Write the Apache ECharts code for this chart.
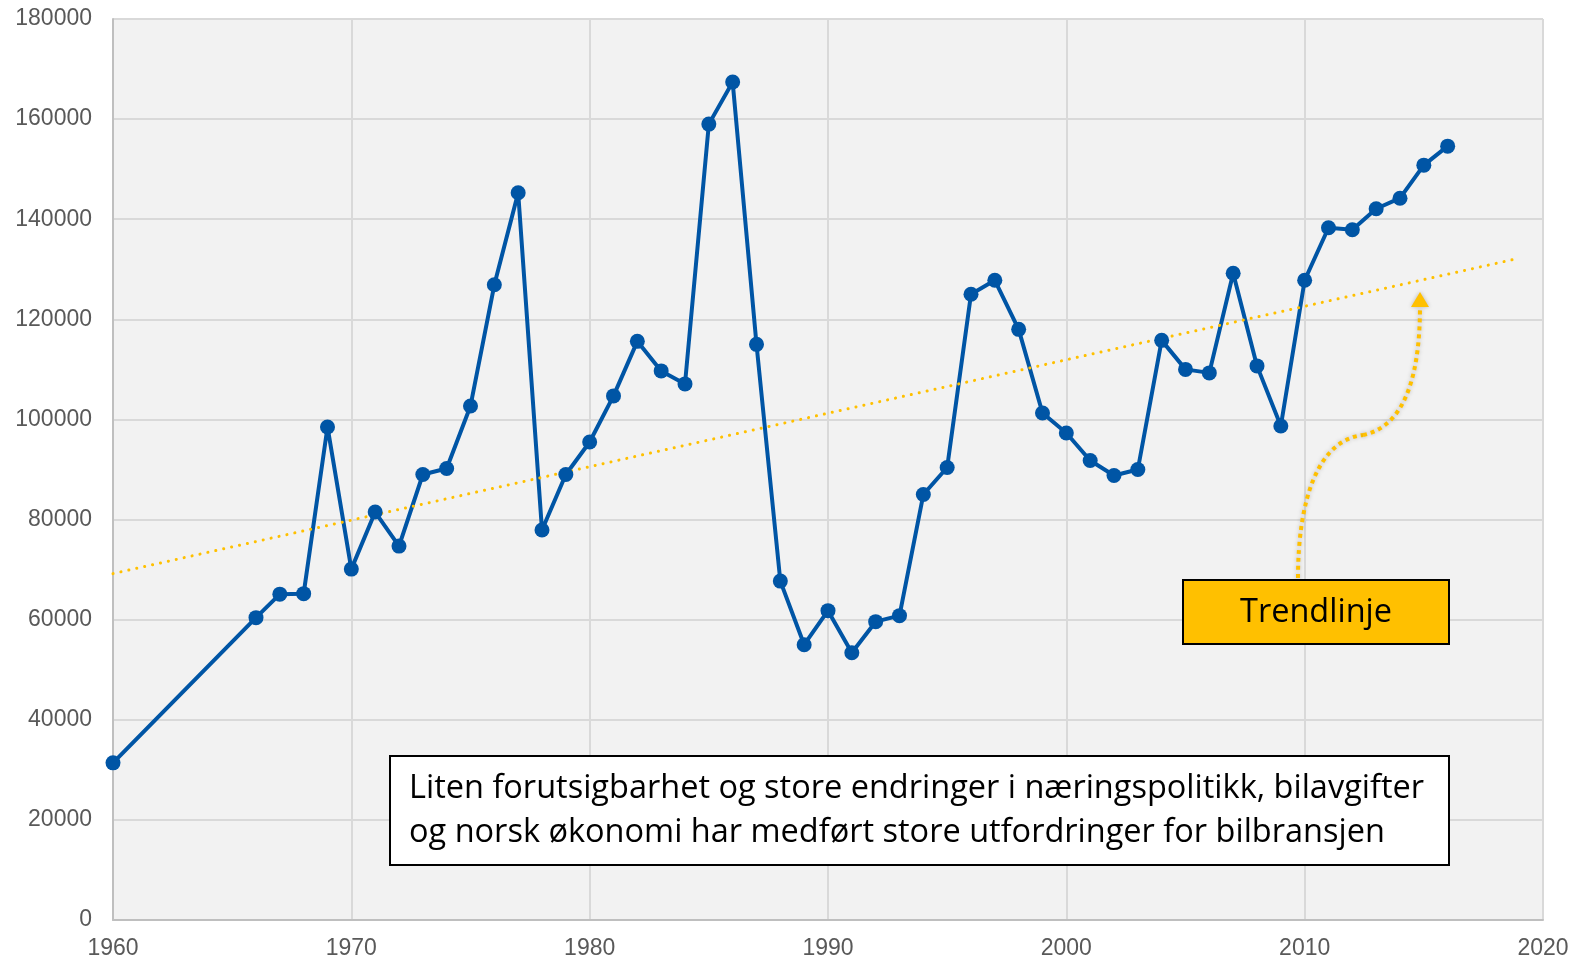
<!DOCTYPE html>
<html>
<head>
<meta charset="utf-8">
<script src="https://cdn.jsdelivr.net/npm/echarts@6/dist/echarts.min.js"></script>
<style>
  html, body { margin: 0; padding: 0; background: #fff; }
  #main { width: 1581px; height: 961px; }
</style>
</head>
<body>
<div id="main"></div>
<script>
  // årstall og antall
  var years = [1960, 1966, 1967, 1968, 1969, 1970, 1971, 1972, 1973, 1974, 1975, 1976, 1977, 1978, 1979,
    1980, 1981, 1982, 1983, 1984, 1985, 1986, 1987, 1988, 1989, 1990, 1991, 1992, 1993, 1994, 1995,
    1996, 1997, 1998, 1999, 2000, 2001, 2002, 2003, 2004, 2005, 2006, 2007, 2008, 2009, 2010, 2011,
    2012, 2013, 2014, 2015, 2016]
  var values = [31400, 60400, 65100, 65200, 98500, 70100, 81500, 74700, 89000, 90200, 102700, 126900, 145300, 77900, 89000,
    95500, 104700, 115600, 109700, 107100, 159000, 167400, 115000, 67700, 55000, 61800, 53400, 59600, 60800, 85000, 90400,
    125000, 127800, 118000, 101300, 97300, 91800, 88800, 90000, 115800, 110000, 109300, 129200, 110700, 98700, 127800, 138300,
    137900, 142100, 144200, 150800, 154600]
  // trendlinje endepunkter
  var trendYears = [1960, 2018.8]
  var trendValues = [69200, 132000]

  var chart = echarts.init(document.getElementById('main'))

  var axisLabel = {
    color: '#595959', fontSize: 23, fontFamily: 'Liberation Sans',
    formatter: function (v) { return String(v) }
  }

  var option = {
    animation: false,
    grid: { left: 113, right: 38, top: 19, bottom: 41, show: true, backgroundColor: '#f2f2f2', borderWidth: 0 },
    xAxis: {
      type: 'value', min: 1960, max: 2020, interval: 10,
      axisLine: { show: true, onZero: false, lineStyle: { color: '#bfbfbf', width: 2 } },
      axisTick: { show: false },
      splitLine: { show: true, lineStyle: { color: '#d9d9d9', width: 2 } },
      axisLabel: Object.assign({ margin: 17 }, axisLabel)
    },
    yAxis: {
      type: 'value', min: 0, max: 180000, interval: 20000,
      axisLine: { show: true, lineStyle: { color: '#bfbfbf', width: 2 } },
      axisTick: { show: false },
      splitLine: { show: true, lineStyle: { color: '#d9d9d9', width: 2 } },
      axisLabel: Object.assign({ margin: 21 }, axisLabel)
    },
    series: [
      {
        type: 'line',
        data: years.map(function (y, i) { return [y, values[i]] }),
        symbol: 'circle',
        symbolSize: 15,
        itemStyle: { color: '#0055a5' },
        lineStyle: { color: '#0055a5', width: 4 }
      },
      {
        type: 'line',
        data: trendYears.map(function (y, i) { return [y, trendValues[i]] }),
        showSymbol: false,
        symbol: 'none',
        lineStyle: { color: '#ffc000', width: 3, type: [0.1, 8], cap: 'round' },
        z: 3
      }
    ],
    graphic: [
      {
        type: 'rect',
        shape: { x: 390, y: 756, width: 1059, height: 109 },
        style: { fill: '#fff', stroke: '#000', lineWidth: 2 },
        z: 10
      },
      {
        type: 'text',
        x: 409, y: 767,
        style: {
          text: 'Liten forutsigbarhet og store endringer i næringspolitikk, bilavgifter\nog norsk økonomi har medført store utfordringer for bilbransjen',
          fill: '#000', font: '32.5px "Open Sans"', lineHeight: 44
        },
        z: 11
      },
      {
        type: 'rect',
        shape: { x: 1183, y: 580, width: 266, height: 64 },
        style: { fill: '#ffc000', stroke: '#000', lineWidth: 2 },
        z: 10
      },
      {
        type: 'text',
        x: 1316, y: 613,
        style: {
          text: 'Trendlinje', fill: '#000', font: '32.5px "Open Sans"',
          align: 'center', verticalAlign: 'middle'
        },
        z: 11
      },
      {
        type: 'bezierCurve',
        shape: { x1: 1298, y1: 578, cpx1: 1298, cpy1: 500, cpx2: 1318, cpy2: 440, x2: 1363, y2: 435 },
        style: { stroke: '#ffc000', lineWidth: 4, fill: null, lineDash: [4, 4], shadowBlur: 4, shadowColor: 'rgba(0,0,0,0.25)' },
        z: 9
      },
      {
        type: 'bezierCurve',
        shape: { x1: 1363, y1: 435, cpx1: 1398, cpy1: 428, cpx2: 1420, cpy2: 390, x2: 1420, y2: 306 },
        style: { stroke: '#ffc000', lineWidth: 4, fill: null, lineDash: [4, 4], shadowBlur: 4, shadowColor: 'rgba(0,0,0,0.25)' },
        z: 9
      },
      {
        type: 'polygon',
        shape: { points: [[1420, 292], [1411, 307], [1429, 307]] },
        style: { fill: '#ffc000', shadowBlur: 4, shadowColor: 'rgba(0,0,0,0.25)' },
        z: 9
      }
    ]
  }

  chart.setOption(option)
</script>
</body>
</html>
